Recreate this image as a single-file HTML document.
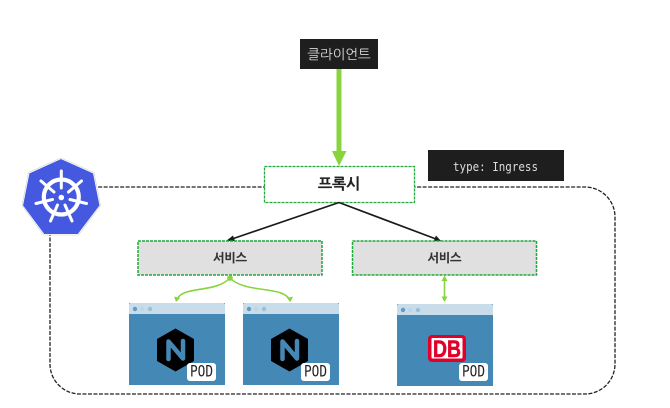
<!DOCTYPE html>
<html><head><meta charset="utf-8"><style>
html,body{margin:0;padding:0;background:#fff;width:670px;height:408px;overflow:hidden}
svg{display:block}
text{font-family:"NanumGothic","Liberation Sans","Noto Sans CJK KR",sans-serif}
.m{font-family:"DejaVu Sans Mono","Liberation Mono",monospace}
.l{font-family:"Liberation Sans",sans-serif}
</style></head><body>
<svg width="670" height="408" viewBox="0 0 670 408" xmlns="http://www.w3.org/2000/svg">
<defs>
<g id="hdr">
<rect x="0" y="0" width="96" height="82" fill="#4488b6"/>
<path d="M0 11V2a2 2 0 0 1 2-2H94a2 2 0 0 1 2 2V11z" fill="#c8dde9"/>
<circle cx="6" cy="6" r="2.200" fill="#5c9cc6"/><circle cx="13" cy="6" r="2.200" fill="#bcd6e6"/><circle cx="21" cy="6" r="2.200" fill="#98c0da"/>
</g>
<g id="pod"><rect x="58" y="60" width="29" height="18" rx="3" fill="#fff"/>
<text x="72.500" y="73.700" font-size="16" text-anchor="middle" class="m" fill="#222" textLength="23" lengthAdjust="spacingAndGlyphs">POD</text></g>
<g id="nginx"><path d="M46.500 25.500L65 36V58L46.500 68.500L28 58V36Z" fill="#000"/>
<path d="M39.500 56V38.500L54 55.500V38" fill="none" stroke="#4488b6" stroke-width="4.500" stroke-linecap="round" stroke-linejoin="round"/></g>
</defs>

<path d="M50 232V364a30 30 0 0 0 30 30H585a30 30 0 0 0 30-30V217a30 30 0 0 0-30-30H97" fill="none" stroke="#222" stroke-width="1.300" stroke-dasharray="4 1.500"/>

<rect x="264.500" y="166.500" width="150" height="36" fill="#fff" stroke="#22a83c" stroke-width="1.300" stroke-dasharray="3 1"/>
<text x="339" y="189" font-size="15" font-weight="bold" fill="#222" stroke="#222" stroke-width=".3" text-anchor="middle">프록시</text>

<rect x="300" y="39" width="78" height="30" fill="#1e1e1e"/>
<text x="339" y="59" font-size="13.500" fill="#dcdcdc" text-anchor="middle">클라이언트</text>
<rect x="336.500" y="69" width="5" height="83" fill="#88d43e"/>
<path d="M332 151H346.500L339 166Z" fill="#88d43e"/>

<rect x="428" y="150" width="136" height="31" fill="#1e1e1e"/>
<text x="453" y="171" font-size="12.500" class="m" fill="#dcdcdc" textLength="85" lengthAdjust="spacingAndGlyphs">type: Ingress</text>

<path d="M339 202.500L232 239" fill="none" stroke="#1a1a1a" stroke-width="1.700"/>
<path d="M226 241L233 235.500L235 241Z" fill="#1a1a1a"/>
<path d="M339 202.500L436 239" fill="none" stroke="#1a1a1a" stroke-width="1.700"/>
<path d="M441 241L433.500 241.500L436 235.500Z" fill="#1a1a1a"/>

<rect x="138" y="241" width="184" height="34" fill="#e0e0e0" stroke="#22a83c" stroke-width="1.500" stroke-dasharray="3 1"/>
<text x="230" y="262" font-size="12" font-weight="bold" fill="#333" stroke="#333" stroke-width=".25" text-anchor="middle">서비스</text>
<rect x="352.500" y="241" width="184" height="34" fill="#e0e0e0" stroke="#22a83c" stroke-width="1.500" stroke-dasharray="3 1"/>
<text x="444.500" y="262" font-size="12" font-weight="bold" fill="#333" stroke="#333" stroke-width=".25" text-anchor="middle">서비스</text>

<path d="M176.500 301C180 285 215 294 230 278C245 294 285 285 290 301" fill="none" stroke="#88d43e" stroke-width="1.600"/>
<path d="M176 302L174 296.500L180 298Z" fill="#88d43e"/>
<path d="M290.500 302L287 298L293 296.500Z" fill="#88d43e"/>
<circle cx="230" cy="278" r="2.800" fill="#88d43e"/>
<path d="M444.500 278V301" stroke="#88d43e" stroke-width="1.600"/>
<path d="M444.500 275.500L447.500 281H441.500Z" fill="#88d43e"/><path d="M444.500 302L447.500 296.500H441.500Z" fill="#88d43e"/>

<g transform="translate(129 303)"><use href="#hdr"/><use href="#nginx"/><use href="#pod"/></g>
<g transform="translate(243 303)"><use href="#hdr"/><use href="#nginx"/><use href="#pod"/></g>
<g transform="translate(397 304)"><use href="#hdr"/>
<rect x="31" y="31" width="38" height="27" rx="4" fill="#e2002a"/>
<rect x="34.500" y="34" width="31" height="20.500" rx="1" fill="#fff"/>
<text x="50" y="53" font-size="24" font-weight="bold" class="l" fill="#e2002a" stroke="#e2002a" stroke-width=".5" text-anchor="middle" textLength="28" lengthAdjust="spacingAndGlyphs">DB</text>
<g transform="translate(4 -1)"><use href="#pod"/></g></g>

<path d="M61 158.500L93.500 173L100 205.500L78 234.500H44L22.500 205.500L29 173Z" fill="#4459e0" stroke="#fff" stroke-width="1" stroke-linejoin="round"/>
<path d="M61 158L94 172.500L100.500 205.500L78.500 235H43.500L22 205.500L28.500 172.500Z" fill="none" stroke="#ccc" stroke-width=".6" stroke-linejoin="round"/>
<g stroke="#fff" fill="none" stroke-linecap="round">
<circle cx="61.300" cy="197" r="17.500" stroke-width="4.200"/>
<g stroke-width="3">
<path d="M61.300 171V188"/><path d="M41 181L54 192"/><path d="M81.500 181L68.500 192"/>
<path d="M36 203.500L52.500 199.500"/><path d="M86.500 203.500L70 199.500"/>
<path d="M50.500 221L57.500 205"/><path d="M72 221L65 205"/>
</g></g>
<circle cx="61.300" cy="197.500" r="2.800" fill="#fff"/>
</svg>
</body></html>
